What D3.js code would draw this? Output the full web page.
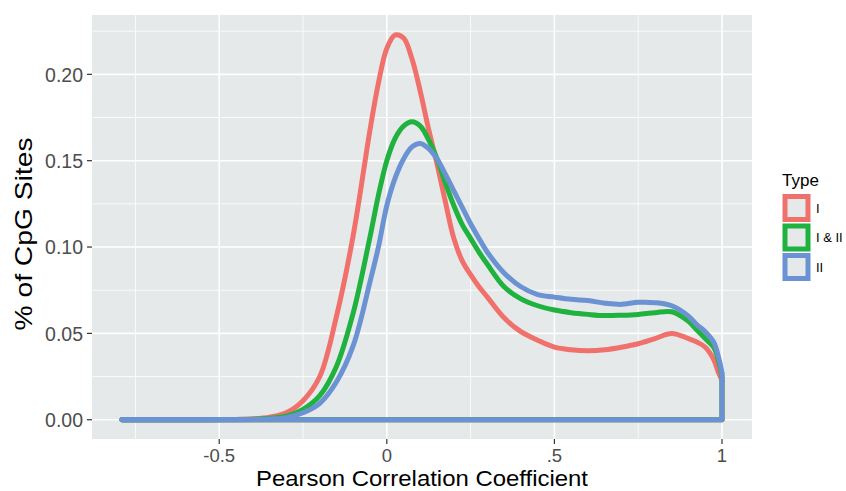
<!DOCTYPE html>
<html><head><meta charset="utf-8">
<script src="https://cdn.jsdelivr.net/npm/d3@7"></script>
<style>body{margin:0;background:#fff}svg{display:block;font-family:"Liberation Sans",Arial,Helvetica,sans-serif}</style>
</head><body><svg id="c" width="846" height="491"></svg>
<script>
const xGrid = [-0.79,-0.6,-0.45,-0.4,-0.35,-0.3,-0.25,-0.2,-0.15,-0.1,-0.05,-0.025,0,0.025,0.05,0.075,0.1,0.125,0.15,0.175,0.2,0.225,0.25,0.275,0.3,0.35,0.4,0.45,0.5,0.55,0.6,0.65,0.7,0.75,0.8,0.85,0.9,0.925,0.95,0.975,0.99,1.0];
const typeI   = [0,0,0.0002,0.0005,0.0015,0.004,0.011,0.025,0.06,0.107,0.168,0.195,0.215,0.2228,0.221,0.209,0.19,0.168,0.148,0.126,0.105,0.092,0.084,0.077,0.071,0.059,0.051,0.046,0.042,0.0405,0.040,0.0405,0.042,0.044,0.047,0.050,0.047,0.045,0.042,0.035,0.027,0.023];
const typeI_II= [0,0,0.0001,0.0003,0.0008,0.002,0.006,0.014,0.031,0.062,0.106,0.130,0.150,0.163,0.170,0.1725,0.170,0.162,0.151,0.137,0.124,0.113,0.105,0.097,0.090,0.077,0.070,0.066,0.0635,0.062,0.061,0.0603,0.0605,0.061,0.062,0.0625,0.057,0.052,0.047,0.042,0.034,0.025];
const typeII  = [0,0,0,0.0001,0.0004,0.0012,0.004,0.0095,0.022,0.043,0.080,0.100,0.124,0.140,0.151,0.158,0.160,0.157,0.151,0.142,0.1325,0.123,0.1135,0.105,0.097,0.085,0.077,0.0725,0.071,0.0697,0.069,0.0675,0.0668,0.068,0.0678,0.066,0.060,0.055,0.051,0.045,0.036,0.027];
const seriesNames = ["I","I & II","II"];
const seriesColors = ["#F0716B","#1FB23F","#6B92D2"];
const xTicks = [-0.5,0,0.5,1];
const xTickLabels = ["-0.5","0",".5","1"];
const yTicks = [0,0.05,0.10,0.15,0.20];
const yTickLabels = ["0.00","0.05","0.10","0.15","0.20"];

const svg = d3.select("#c");
const L=92, R=752, T=15, B=439;
const x = d3.scaleLinear().domain([-0.8795,1.0895]).range([L,R]);
const y = d3.scaleLinear().domain([-0.01116,0.23436]).range([B,T]);

svg.append("rect").attr("x",L).attr("y",T).attr("width",R-L).attr("height",B-T).attr("fill","#E5E9E9");
const g = svg.append("g");
[-0.75,-0.25,0.25,0.75].forEach(v=>g.append("line").attr("x1",x(v)).attr("x2",x(v)).attr("y1",T).attr("y2",B).attr("stroke","#fff").attr("stroke-width",0.8));
[0.025,0.075,0.125,0.175,0.225].forEach(v=>g.append("line").attr("y1",y(v)).attr("y2",y(v)).attr("x1",L).attr("x2",R).attr("stroke","#fff").attr("stroke-width",0.8));
xTicks.forEach(v=>g.append("line").attr("x1",x(v)).attr("x2",x(v)).attr("y1",T).attr("y2",B).attr("stroke","#fff").attr("stroke-width",1.6));
yTicks.forEach(v=>g.append("line").attr("y1",y(v)).attr("y2",y(v)).attr("x1",L).attr("x2",R).attr("stroke","#fff").attr("stroke-width",1.6));

const data = [typeI, typeI_II, typeII];
const line = d3.line().x(d=>x(d[0])).y(d=>y(Math.max(0,d[1]))).curve(d3.curveCatmullRom.alpha(0.5));
const lin = d3.line().x(d=>x(d[0])).y(d=>y(d[1]));
data.forEach((vals,i)=>{
  const pts = xGrid.map((xv,j)=>[xv,vals[j]]);
  const last = pts[pts.length-1];
  const first = pts[0];
  const pg = svg.append("g").attr("fill","none").attr("stroke",seriesColors[i]).attr("stroke-width",5).attr("stroke-linecap","round").attr("stroke-linejoin","round");
  pg.append("path").attr("d", lin([[first[0],0],[last[0],0],last]));
  pg.append("path").attr("d", line(pts));
});

const ax = svg.append("g");
xTicks.forEach((v,i)=>{
  ax.append("line").attr("x1",x(v)).attr("x2",x(v)).attr("y1",B).attr("y2",B+5).attr("stroke","#333").attr("stroke-width",1.2);
  ax.append("text").attr("x",x(v)).attr("y",B+23).attr("text-anchor","middle").attr("font-size",18.5).attr("fill","#4D4D4D").text(xTickLabels[i]);
});
yTicks.forEach((v,i)=>{
  ax.append("line").attr("x1",L-5).attr("x2",L).attr("y1",y(v)).attr("y2",y(v)).attr("stroke","#333").attr("stroke-width",1.2);
  ax.append("text").attr("x",L-9).attr("y",y(v)).attr("dy","0.37em").attr("text-anchor","end").attr("font-size",19.5).attr("fill","#4D4D4D").text(yTickLabels[i]);
});
svg.append("text").attr("x",(L+R)/2).attr("y",486).attr("text-anchor","middle").attr("font-size",22.5).attr("textLength",332).attr("lengthAdjust","spacingAndGlyphs").attr("fill","#000").text("Pearson Correlation Coefficient");
svg.append("text").attr("transform",`translate(32,${(T+B)/2 + 7}) rotate(-90)`).attr("text-anchor","middle").attr("font-size",24).attr("textLength",193).attr("lengthAdjust","spacingAndGlyphs").attr("fill","#000").text("% of CpG Sites");

const lg = svg.append("g");
lg.append("text").attr("x",782).attr("y",186).attr("font-size",17).attr("fill","#000").text("Type");
seriesNames.forEach((n,i)=>{
  const yy = 194 + i*29.5;
  lg.append("rect").attr("x",785).attr("y",yy+2.5).attr("width",23).attr("height",23).attr("fill","#E5E9E9").attr("stroke",seriesColors[i]).attr("stroke-width",5);
  lg.append("text").attr("x",816).attr("y",yy+14).attr("dy","0.36em").attr("font-size",13).attr("fill","#000").text(n);
});
</script></body></html>
